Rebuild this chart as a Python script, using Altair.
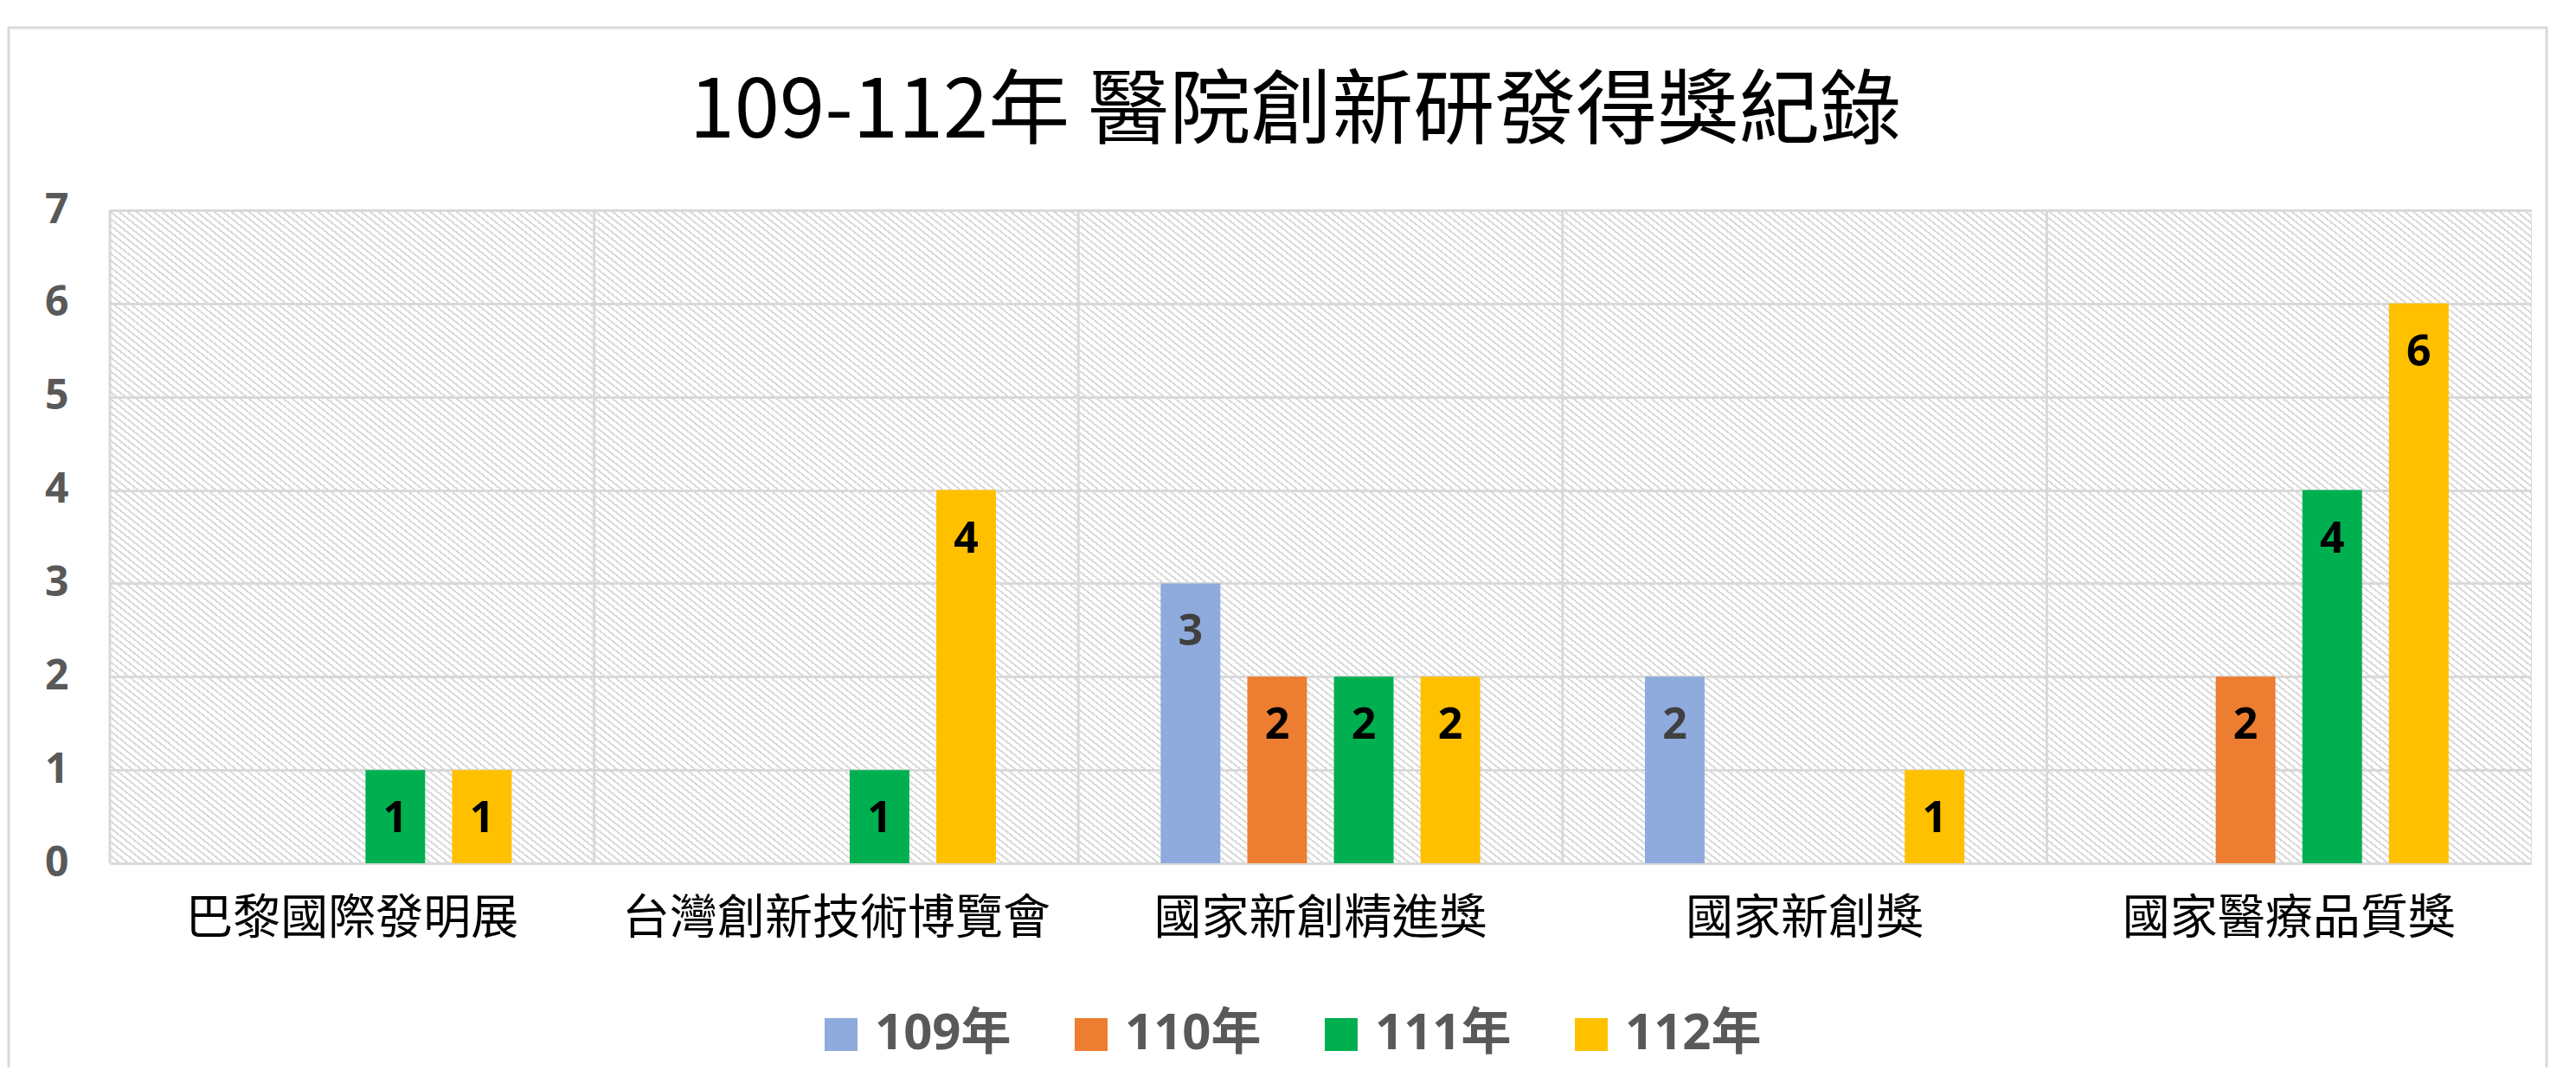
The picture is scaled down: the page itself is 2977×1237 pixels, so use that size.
import altair as alt
import pandas as pd

# ---------------- data ----------------
categories = ["巴黎國際發明展", "台灣創新技術博覽會", "國家新創精進獎", "國家新創獎", "國家醫療品質獎"]
series = ["109年", "110年", "111年", "112年"]
v109 = [0, 0, 3, 2, 0]
v110 = [0, 0, 2, 0, 2]
v111 = [1, 1, 2, 0, 4]
v112 = [1, 4, 2, 1, 6]
colors = ["#8FAADC", "#ED7D31", "#00B050", "#FFC000"]
y_ticks = [0, 1, 2, 3, 4, 5, 6, 7]
title_text = "109-112年 醫院創新研發得獎紀錄"

rows = []
for s, vals in zip(series, [v109, v110, v111, v112]):
    for c, v in zip(categories, vals):
        if v > 0:
            rows.append({"category": c, "series": s, "value": v})
df = pd.DataFrame(rows)
cat_df = pd.DataFrame({"category": categories})
one_df = pd.DataFrame({"k": [0]})

# ---------------- layout / style ----------------
W, H = 2798, 755
GRID = "#D9D9D9"
LATIN = "'Open Sans', 'Noto Sans CJK TC', sans-serif"
CJK = "'Noto Sans CJK TC', sans-serif"

# diagonal hatch pattern built as a striped linear gradient (objectBoundingBox units)
slope = 0.8      # dy/dx of the hatch lines (downward diagonal)
period = 10.0    # horizontal distance between hatch lines in px
duty = 0.32
b = -H / (W * slope)
k = (1 - b) / (1 + b * b)
gx1, gy1 = 0.0, 1.0
gx2, gy2 = k, 1.0 + k * b
n = int(round((W + H / slope) / period))
hatch_gray = "#D9D9D9"
clear = "rgba(255,255,255,0)"
stops = []
for i in range(n):
    t0 = i / n
    t1 = (i + duty) / n
    t2 = (i + 1) / n
    stops += [
        alt.GradientStop(offset=t0, color=hatch_gray),
        alt.GradientStop(offset=t1, color=hatch_gray),
        alt.GradientStop(offset=t1, color=clear),
        alt.GradientStop(offset=t2, color=clear),
    ]
hatch_fill = alt.LinearGradient(gradient="linear", stops=stops, x1=gx1, y1=gy1, x2=gx2, y2=gy2)

x_axis = alt.Axis(
    title=None, labelAngle=0, domain=False, ticks=False, grid=False, labelLimit=0,
    labelFont=CJK, labelFontSize=55, labelColor="#000000", labelPadding=37,
)
y_axis = alt.Axis(
    title=None, values=y_ticks, domain=False, ticks=False, grid=True,
    gridColor=GRID, gridWidth=3, labelFont=LATIN, labelFontSize=48,
    labelFontWeight="bold", labelColor="#595959", labelPadding=48,
)
x_scale = alt.Scale(domain=categories, paddingInner=0, paddingOuter=0)
y_scale = alt.Scale(domain=[0, 7], nice=False)
xo_scale = alt.Scale(domain=series, paddingInner=0.311, paddingOuter=0.951)

X = alt.X("category:N", sort=categories, scale=x_scale, axis=x_axis)
Y = alt.Y("value:Q", scale=y_scale, axis=y_axis)
XO = alt.XOffset("series:N", sort=series, scale=xo_scale)

hatch = alt.Chart(one_df).mark_rect(fill=hatch_fill, strokeWidth=0).encode(
    x=alt.value(0), x2=alt.value("width"), y=alt.value(0), y2=alt.value("height")
)

separators = alt.Chart(cat_df).mark_rule(color=GRID, strokeWidth=3).encode(
    x=alt.X("category:N", sort=categories, scale=x_scale, axis=x_axis, bandPosition=0)
)

bars = alt.Chart(df).mark_bar().encode(
    x=X, xOffset=XO, y=Y,
    color=alt.Color(
        "series:N", sort=series,
        scale=alt.Scale(domain=series, range=colors),
        legend=alt.Legend(
            title=None, orient="none", legendX=816, legendY=924,
            direction="horizontal", columns=4, gridAlign="all", symbolType="square",
            symbolSize=1444, symbolStrokeWidth=0, symbolOffset=0, labelLimit=0,
            labelFont=LATIN, labelFontSize=58, labelFontWeight="bold",
            labelColor="#595959", labelOffset=10, columnPadding=63, padding=0,
        ),
    ),
)

labels = alt.Chart(df).mark_text(
    font=LATIN, fontSize=50, fontWeight="bold", baseline="middle", dy=57
).encode(
    x=X, xOffset=XO, y=Y, text="value:Q",
    color=alt.condition(alt.datum.series == "109年", alt.value("#404040"), alt.value("#000000")),
)

# chart title, placed above the plot (centred on the outer frame)
title = alt.Chart(one_df).mark_text(
    text=title_text, font=CJK, fontSize=94, fontWeight="normal", color="#000000",
    align="center", baseline="alphabetic",
).encode(x=alt.value(1370), y=alt.value(-84))

# light grey outer border of the chart area
frame = alt.Chart(one_df).mark_rect(fillOpacity=0, stroke=GRID, strokeWidth=3).encode(
    x=alt.value(-117), x2=alt.value(2816), y=alt.value(-211), y2=alt.value(1040)
)

chart = alt.layer(hatch, separators, bars, labels, title, frame).properties(
    width=W, height=H,
    autosize=alt.AutoSizeParams(type="none"),
    padding={"left": 119, "top": 235, "right": 30, "bottom": 236},
).configure_view(stroke=GRID, strokeWidth=3, fill="white").configure(background="white")

chart.save("out.html", embed_options={"renderer": "svg", "actions": False})
